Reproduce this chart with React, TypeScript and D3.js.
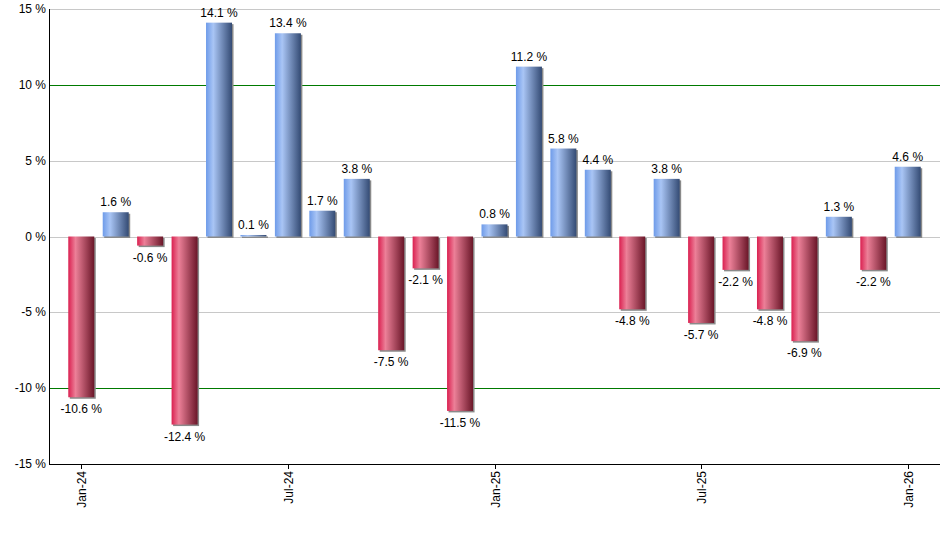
import * as d3 from 'd3';

// Monthly returns, Jan-24 .. Jan-26
const months = [
  'Jan-24', 'Feb-24', 'Mar-24', 'Apr-24', 'May-24', 'Jun-24', 'Jul-24', 'Aug-24', 'Sep-24',
  'Oct-24', 'Nov-24', 'Dec-24', 'Jan-25', 'Feb-25', 'Mar-25', 'Apr-25', 'May-25', 'Jun-25',
  'Jul-25', 'Aug-25', 'Sep-25', 'Oct-25', 'Nov-25', 'Dec-25', 'Jan-26',
];
const returns = [
  -10.6, 1.6, -0.6, -12.4, 14.1, 0.1, 13.4, 1.7, 3.8, -7.5, -2.1, -11.5, 0.8,
  11.2, 5.8, 4.4, -4.8, 3.8, -5.7, -2.2, -4.8, -6.9, 1.3, -2.2, 4.6,
];
const xTickLabels = ['Jan-24', 'Jul-24', 'Jan-25', 'Jul-25', 'Jan-26'];
const yTicks = [15, 10, 5, 0, -5, -10, -15];
const greenLines = [10, -10];

const W = 940;
const H = 550;
const left = 49;
const right = 940;
const top = 9;
const bottom = 464;

export default function App() {
  const x = d3.scaleBand<string>()
    .domain(months)
    .range([left, right])
    .paddingInner(0.245)
    .paddingOuter(0.56);
  const y = d3.scaleLinear().domain([-15, 15]).range([bottom, top]);
  const bw = x.bandwidth();
  const font = 'Arial, "Liberation Sans", sans-serif';

  return (
    <svg width={W} height={H} style={{ position: 'absolute', left: 0, top: 0 }} fontFamily={font}>
      <defs>
        <linearGradient id="gBlue" x1="0" x2="1" y1="0" y2="0">
          <stop offset="0%" stopColor="#6e9be9" />
          <stop offset="28%" stopColor="#a9c5f5" />
          <stop offset="100%" stopColor="#344b74" />
        </linearGradient>
        <linearGradient id="gRed" x1="0" x2="1" y1="0" y2="0">
          <stop offset="0%" stopColor="#da2050" />
          <stop offset="28%" stopColor="#ec8098" />
          <stop offset="100%" stopColor="#6a1628" />
        </linearGradient>
      </defs>

      {/* grid */}
      {yTicks.filter(t => t !== -15).map(t => (
        <line key={t} x1={left} x2={right} y1={Math.round(y(t)) + 0.5} y2={Math.round(y(t)) + 0.5}
          stroke={greenLines.includes(t) ? '#007a00' : '#c8c8c8'} strokeWidth={1} />
      ))}

      {/* bars */}
      {returns.map((v, i) => {
        const x0 = x(months[i]) || 0;
        const y0 = y(Math.max(v, 0));
        const h = Math.abs(y(v) - y(0));
        return (
          <g key={months[i]}>
            <rect x={x0 + 1.5} y={y0 + 1.5} width={bw} height={h} fill="#8a8a8a" />
            <rect x={x0} y={y0} width={bw} height={h} fill={v >= 0 ? 'url(#gBlue)' : 'url(#gRed)'} />
          </g>
        );
      })}

      {/* value labels */}
      {returns.map((v, i) => (
        <text key={'l' + i} x={(x(months[i]) || 0) + bw / 2}
          y={v >= 0 ? y(v) - 6 : y(v) + 16}
          textAnchor="middle" fontSize={12} fill="#000">
          {`${v.toFixed(1)} %`}
        </text>
      ))}

      {/* axes */}
      <line x1={left + 0.5} x2={left + 0.5} y1={top} y2={bottom + 0.5} stroke="#000" />
      <line x1={left} x2={right} y1={bottom + 0.5} y2={bottom + 0.5} stroke="#000" />
      {yTicks.map(t => (
        <text key={'y' + t} x={left - 3} y={y(t) + 4} textAnchor="end" fontSize={12} fill="#000">
          {`${t} %`}
        </text>
      ))}
      {xTickLabels.map(m => {
        const cx = Math.round((x(m) || 0) + bw / 2) + 0.5;
        return (
          <g key={m}>
            <line x1={cx} x2={cx} y1={bottom} y2={bottom + 5} stroke="#000" />
            <text transform={`translate(${cx + 4},${bottom + 7}) rotate(-90)`} textAnchor="end"
              fontSize={12} fill="#000">{m}</text>
          </g>
        );
      })}
    </svg>
  );
}
